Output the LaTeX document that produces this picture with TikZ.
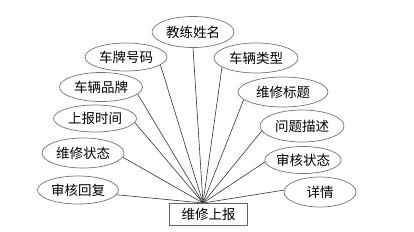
\documentclass[tikz,border=0pt]{standalone}
\usepackage{fontspec}
\setmainfont{Noto Sans CJK SC}
\usetikzlibrary{shapes.geometric}
\begin{document}
\begin{tikzpicture}[x=1pt,y=-1pt,
  attr/.style={ellipse,draw=black!55,line width=0.7pt,inner sep=0pt,font=\fontsize{13.5}{14}\selectfont},
  ent/.style={rectangle,draw=black!60,line width=1pt,fill=white,inner sep=0pt,minimum width=78pt,minimum height=22pt,font=\fontsize{13.5}{14}\selectfont},
  link/.style={draw=black!80,line width=0.6pt}]
\useasboundingbox (0,0) rectangle (414,231);
\node[attr,minimum width=82pt,minimum height=31pt] (e1) at (193,32) {教练姓名};
\node[attr,minimum width=82pt,minimum height=28pt] (e2) at (126,57) {车牌号码};
\node[attr,minimum width=83pt,minimum height=29pt] (e3) at (101,87) {车辆品牌};
\node[attr,minimum width=83pt,minimum height=27pt] (e4) at (95,118.5) {上报时间};
\node[attr,minimum width=82pt,minimum height=30pt] (e5) at (83,153) {维修状态};
\node[attr,minimum width=81pt,minimum height=28pt] (e6) at (78,190) {审核回复};
\node[attr,minimum width=84pt,minimum height=30pt] (e7) at (256,58) {车辆类型};
\node[attr,minimum width=90pt,minimum height=30pt] (e8) at (283,92) {维修标题};
\node[attr,minimum width=84pt,minimum height=32pt] (e9) at (302,126) {问题描述};
\node[attr,minimum width=73pt,minimum height=27pt] (e10) at (303,160) {审核状态};
\node[attr,minimum width=72pt,minimum height=30pt] (e11) at (320,192) {详情};
\coordinate (c) at (203,203);
\draw[link] (e1.270) -- (c);
\draw[link] (e2.347) -- (c);
\draw[link] (e3.349) -- (c);
\draw[link] (e4.354) -- (c);
\draw[link] (e5.354) -- (c);
\draw[link] (e6.353) -- (c);
\draw[link] (e7.195) -- (c);
\draw[link] (e8.191) -- (c);
\draw[link] (e9.187) -- (c);
\draw[link] (e10.183) -- (c);
\draw[link] (e11.177) -- (c);
\node[ent] (b) at (208.5,214) {维修上报};
\end{tikzpicture}
\end{document}
